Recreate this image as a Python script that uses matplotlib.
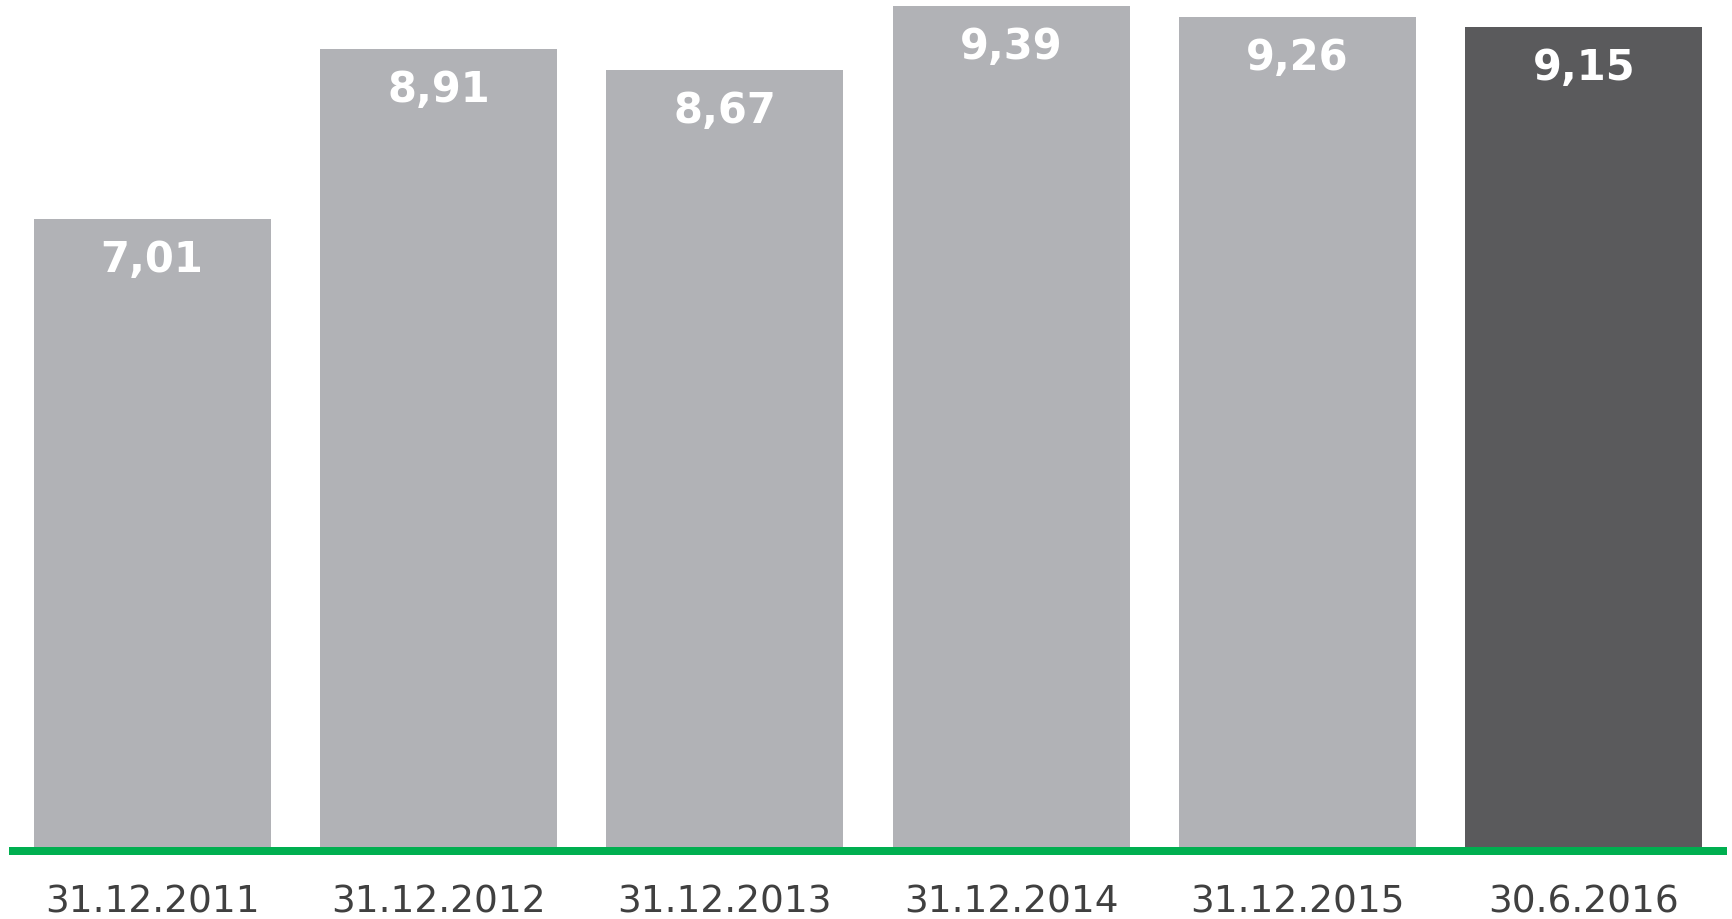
import matplotlib
matplotlib.use("Agg")
import matplotlib.pyplot as plt
import matplotlib.transforms as mtransforms

# data
dates = ["31.12.2011", "31.12.2012", "31.12.2013", "31.12.2014", "31.12.2015", "30.6.2016"]
values = [7.01, 8.91, 8.67, 9.39, 9.26, 9.15]
labels = ["7,01", "8,91", "8,67", "9,39", "9,26", "9,15"]

light = "#B1B2B6"
dark = "#5A5A5C"
green = "#00AF50"
text_col = "#404040"

fig = plt.figure(figsize=(17.33, 9.2), dpi=100)
ax = fig.add_axes([9 / 1733, 72 / 920, 1718 / 1733, 848 / 920])

colors = [light] * (len(values) - 1) + [dark]
x = list(range(len(values)))
ax.bar(x, values, width=0.828, color=colors, linewidth=0, zorder=2)

ax.set_xlim(-0.5, len(values) - 0.5)
ax.set_ylim(0, 9.464)

# green baseline just below the bars
line_tr = mtransforms.offset_copy(ax.get_yaxis_transform(), fig=fig, y=-4, units="dots")
ax.plot([0, 1], [0, 0], color=green, linewidth=5.76, solid_capstyle="butt",
        transform=line_tr, clip_on=False, zorder=3)

# value labels inside bars
for xi, v, lab in zip(x, values, labels):
    ax.annotate(lab, xy=(xi, v), xytext=(0, -37.5), textcoords="offset points",
                ha="center", va="baseline", color="white", fontsize=30,
                fontweight="bold", family="DejaVu Sans")

# category labels under the axis
for xi, d in zip(x, dates):
    ax.annotate(d, xy=(xi, 0), xycoords=("data", "axes fraction"),
                xytext=(0, -46.8), textcoords="offset points",
                ha="center", va="baseline", color=text_col, fontsize=27,
                family="DejaVu Sans", annotation_clip=False)

ax.axis("off")
fig.savefig("out.png", dpi=100)
